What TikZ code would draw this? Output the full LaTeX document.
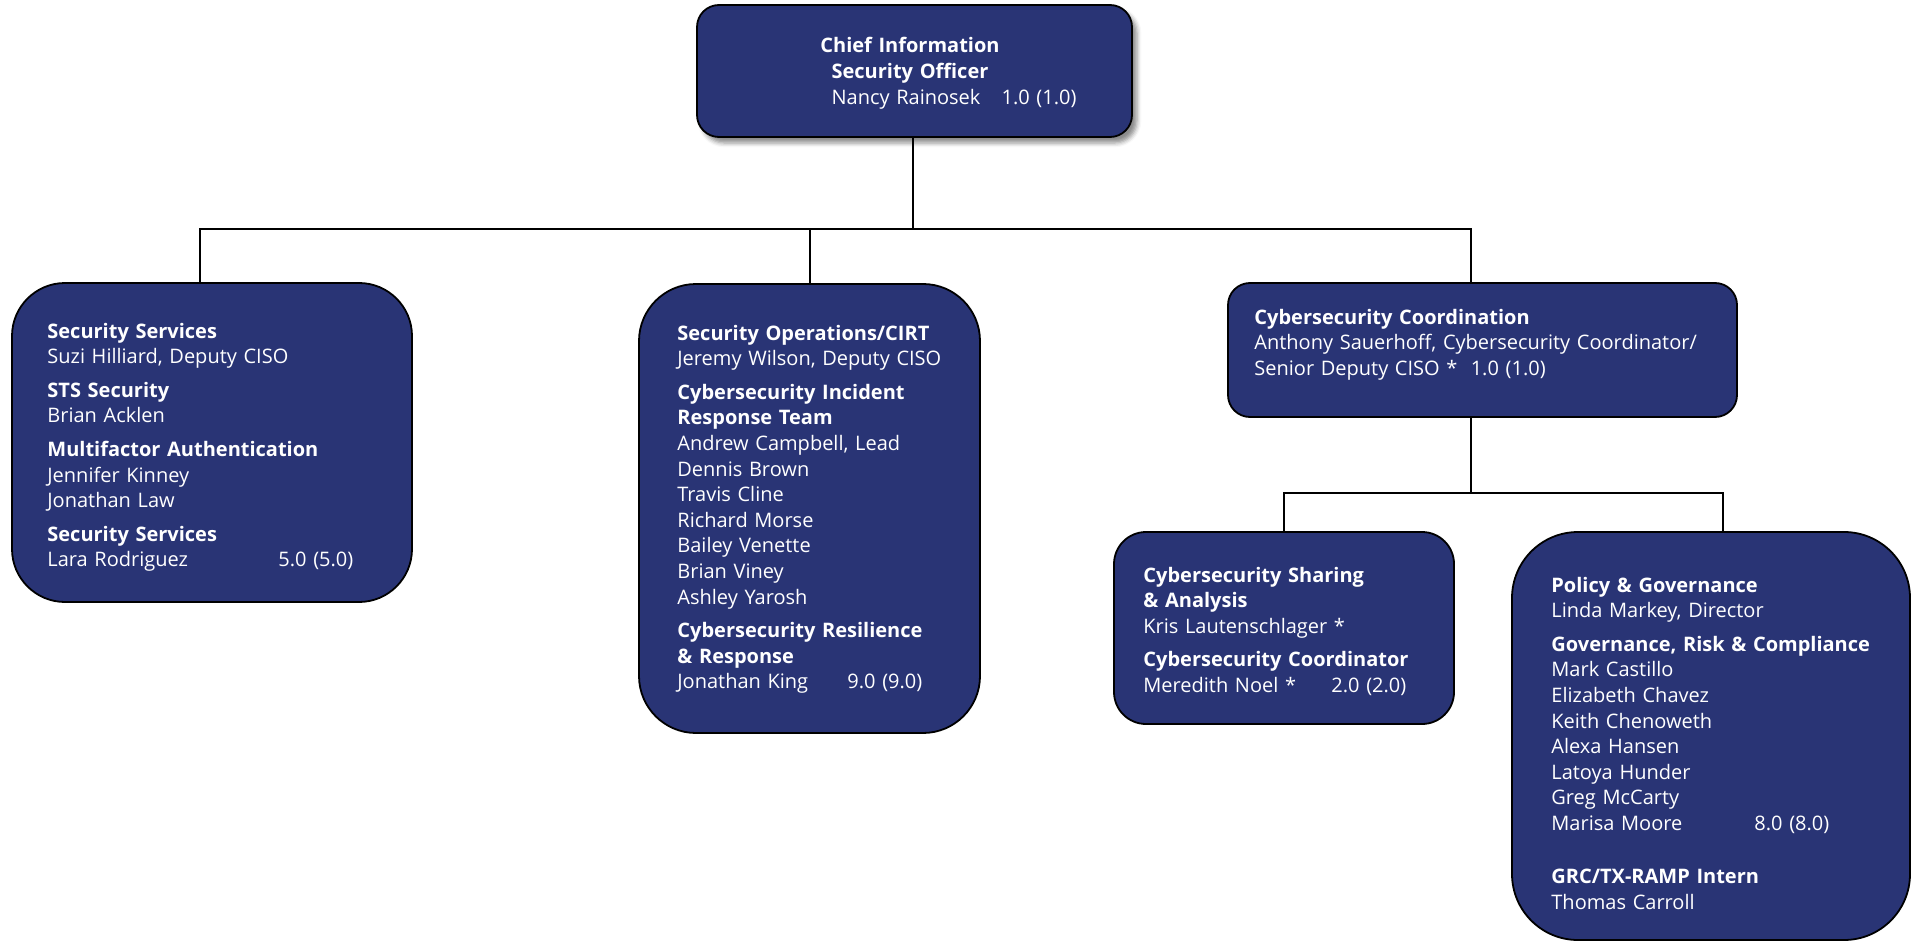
\documentclass[tikz,border=0pt]{standalone}
\usepackage{fontspec}
\setmainfont{Open Sans}
\usetikzlibrary{shadows.blur}

\definecolor{unitblue}{RGB}{41,52,117}
\newcommand\unitfont{\fontsize{10}{12.8}\selectfont}
\newcommand\hd[1]{\textbf{#1}}
\newcommand\fte[3]{\makebox[#1][l]{#2}#3}

\tikzset{
  unit/.style={draw=black, line width=0.9pt, fill=unitblue, rounded corners=#1, inner sep=0pt},
  txt/.style={text=white, font=\unitfont, inner sep=0pt, anchor=base west, text width=220pt, align=left},
  link/.style={draw=black, line width=1pt}
}

\begin{document}
\begin{tikzpicture}[x=0.5pt, y=-0.5pt]
	\useasboundingbox (0,0) rectangle (1911,941);

	% boxes
	\node[unit=11pt, minimum width=217.5pt, minimum height=66pt,
	  blur shadow={shadow xshift=2.5pt, shadow yshift=-3pt, shadow opacity=45}] (ciso) at (914.5,71) {};
	\node[unit=26.5pt, minimum width=200pt, minimum height=159.5pt] (secsvc) at (212,442.5) {};
	\node[unit=28.5pt, minimum width=170.5pt, minimum height=224.5pt] (secops) at (809.5,508.5) {};
	\node[unit=11pt, minimum width=254.5pt, minimum height=67pt] (coord) at (1482.5,350) {};
	\node[unit=16pt, minimum width=170pt, minimum height=96pt] (share) at (1284,628) {};
	\node[unit=33pt, minimum width=199pt, minimum height=204pt] (policy) at (1711,736) {};

	% texts
	\node[txt, anchor=base, align=center] (ciso-t) at (910,53)
	  {\hd{Chief Information}\\ \hd{Security Officer}\\
	   \hspace*{44pt}\fte{85pt}{Nancy Rainosek}{1.0 (1.0)}};
	\node[txt] (secsvc-t) at (47,338)
	  {\hd{Security Services}\\ Suzi Hilliard, Deputy CISO\\[4pt]
	   \hd{STS Security}\\ Brian Acklen\\[4pt]
	   \hd{Multifactor Authentication}\\ Jennifer Kinney\\ Jonathan Law\\[4pt]
	   \hd{Security Services}\\ \fte{115.5pt}{Lara Rodriguez}{5.0 (5.0)}};
	\node[txt] (secops-t) at (677,340)
	  {\hd{Security Operations/CIRT}\\ Jeremy Wilson, Deputy CISO\\[4pt]
	   \hd{Cybersecurity Incident}\\ \hd{Response Team}\\
	   Andrew Campbell, Lead\\ Dennis Brown\\ Travis Cline\\ Richard Morse\\
	   Bailey Venette\\ Brian Viney\\ Ashley Yarosh\\[4pt]
	   \hd{Cybersecurity Resilience}\\ \hd{\& Response}\\
	   \fte{85pt}{Jonathan King}{9.0 (9.0)}};
	\node[txt, text width=240pt] (coord-t) at (1254,324)
	  {\hd{Cybersecurity Coordination}\\
	   Anthony Sauerhoff, Cybersecurity Coordinator/\\
	   Senior Deputy CISO *\ \ 1.0 (1.0)};
	\node[txt] (share-t) at (1143,582)
	  {\hd{Cybersecurity Sharing}\\ \hd{\& Analysis}\\ Kris Lautenschlager *\\[4pt]
	   \hd{Cybersecurity Coordinator}\\ \fte{94pt}{Meredith Noel *}{2.0 (2.0)}};
	\node[txt] (policy-t) at (1551,592)
	  {\hd{Policy \& Governance}\\ Linda Markey, Director\\[4pt]
	   \hd{Governance, Risk \& Compliance}\\
	   Mark Castillo\\ Elizabeth Chavez\\ Keith Chenoweth\\ Alexa Hansen\\
	   Latoya Hunder\\ Greg McCarty\\ \fte{101.5pt}{Marisa Moore}{8.0 (8.0)}\\[13.7pt]
	   \hd{GRC/TX-RAMP Intern}\\ Thomas Carroll};

	% connectors
	\coordinate (bus) at (0,229);
	\coordinate (bus2) at (0,493);
	\draw[link] ([xshift=-0.75pt]ciso.south) -- ([xshift=-0.75pt]ciso.south |- bus);
	\draw[link] ([xshift=-6pt]secsvc.north) |- ([xshift=-6pt]coord.north |- bus) -- ([xshift=-6pt]coord.north);
	\draw[link] (secops.north) -- (secops.north |- bus);
	\draw[link] ([xshift=-6pt]coord.south) -- ([xshift=-6pt]coord.south |- bus2);
	\draw[link] (share.north) |- ([xshift=6pt]policy.north |- bus2) -- ([xshift=6pt]policy.north);
\end{tikzpicture}
\end{document}
